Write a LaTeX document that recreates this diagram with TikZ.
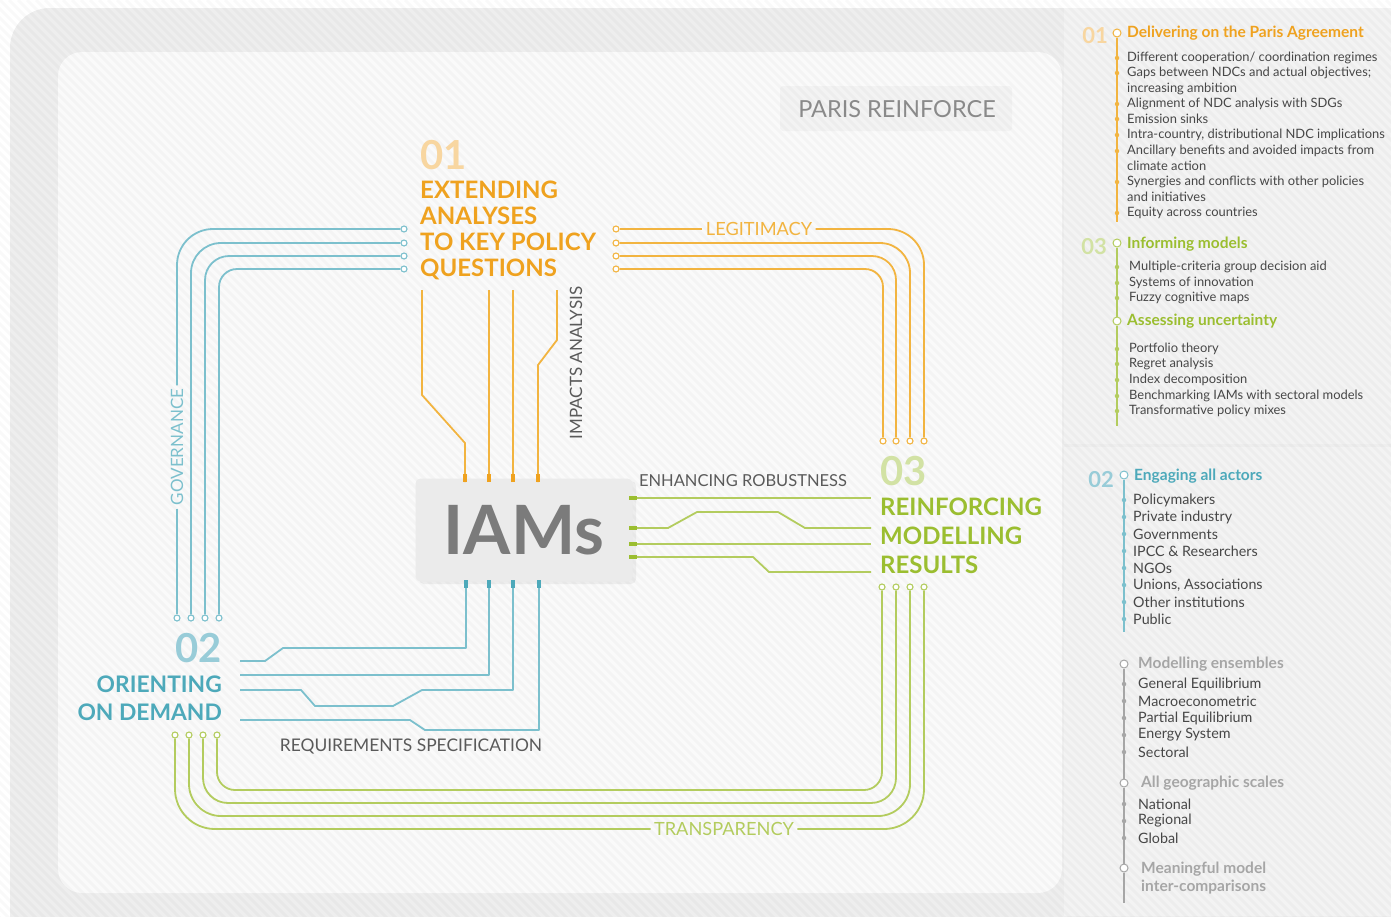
\documentclass[tikz,border=0pt]{standalone}
\usepackage{fontspec}
\setmainfont{Lato}
\usetikzlibrary{calc}

\definecolor{orng}{HTML}{EFA21F}
\definecolor{orline}{HTML}{F2B440}
\definecolor{orngp}{HTML}{F8D6A0}
\definecolor{tl}{HTML}{4DA9BA}
\definecolor{tlline}{HTML}{7CC0CD}
\definecolor{tlp}{HTML}{98CCD8}
\definecolor{grn}{HTML}{9BBE30}
\definecolor{grline}{HTML}{B3CC5E}
\definecolor{grp}{HTML}{D2E2A4}
\definecolor{txgray}{HTML}{5A5A5A}
\definecolor{iamgray}{HTML}{7B7B7B}
\definecolor{prgray}{HTML}{8A8A8A}
\definecolor{sgray}{HTML}{A6A6A6}
\definecolor{txdark}{HTML}{474747}
\definecolor{bgframe}{HTML}{EEEEEE}
\definecolor{bgpanel}{HTML}{FAFAFA}
\definecolor{bgside}{HTML}{F3F3F3}
\definecolor{bgbox}{HTML}{F3F3F3}
\definecolor{boxgray}{HTML}{EBEBEB}

\tikzset{l/.style={font=\fontsize{17}{17}\selectfont}}
\tikzset{ll/.style={font=\fontsize{18.2}{18.2}\selectfont}}
\tikzset{ttl/.style={font=\fontsize{24}{24}\selectfont\bfseries, inner sep=0pt}}
\tikzset{big/.style={font=\fontsize{40}{40}\selectfont\bfseries, inner sep=0pt}}
\tikzset{wire/.style={line width=1.8pt, line join=round}}
\tikzset{stub/.style={line width=3.4pt}}
\tikzset{ring/.style={circle, draw, fill=white, inner sep=0pt, minimum size=6pt, line width=1.1pt}}
\tikzset{hd/.style={font=\fontsize{15.5}{18}\selectfont\bfseries, anchor=west, inner sep=0pt}}
\tikzset{item/.style={font=\fontsize{12.9}{12.9}\selectfont, text=txdark, anchor=west, inner sep=0pt}}
\tikzset{itemb/.style={item, font=\fontsize{14.3}{14.3}\selectfont}}
\tikzset{num/.style={font=\fontsize{22}{22}\selectfont\bfseries, anchor=east, inner sep=0pt}}
\tikzset{rs/.style={circle, draw, fill=white, inner sep=0pt, minimum size=8pt, line width=1pt}}
\tikzset{bul/.style={circle, fill, inner sep=0pt, minimum size=4.5pt}}
\tikzset{stripe/.style={black, opacity=.022, line width=3pt}}

\begin{document}
\begin{tikzpicture}[x=1pt, y=-1pt]
  \useasboundingbox (0,0) rectangle (1391,916);

  % background
  \fill[white] (0,0) rectangle (1391,916);
  \fill[bgframe, rounded corners=40pt] (10,8) rectangle (1440,960);
  \fill[bgside] (1064,8) rectangle (1391,444);
  \fill[bgside] (1064,447) rectangle (1391,916);
  \fill[bgpanel, rounded corners=24pt] (58,52) rectangle (1062,893);
  \fill[bgbox, rounded corners=3pt] (780,86) rectangle (1012,131);
  \begin{scope}
    \clip (0,0) rectangle (1391,916);
    \foreach \i in {-104,...,156}
      \draw[stripe] (\i*9,0) -- ++(930,930);
  \end{scope}

  \node[font=\fontsize{23.5}{23.5}\selectfont, text=prgray] (pr) at (897,109) {PARIS REINFORCE};

  % IAMs
  \fill[black, opacity=.05, rounded corners=5pt] (419,481) rectangle (636,584);
  \node[fill=boxgray, rounded corners=5pt, minimum width=217pt, minimum height=103pt,
        font=\fontsize{68}{68}\selectfont\bfseries, text=iamgray] (iams) at (524,530) {IAMs};

  % 01
  \node[big, text=orngp, anchor=base west] (n01) at (420,169) {01};
  \foreach \t [count=\k] in {EXTENDING, ANALYSES, TO KEY POLICY, QUESTIONS}
    \node[ttl, text=orng, anchor=base west] (ext\k) at (420,172+26*\k) {\t};

  % governance bundle
  \foreach \y/\x [count=\k] in {229/177, 243/191, 256/205, 269/219}{
    \node[ring, draw=tlline] (gt\k) at (404,\y) {};
    \node[ring, draw=tlline] (gb\k) at (\x,618) {};
  }
  \node[l, text=tlline, rotate=90] (gov) at (177,447) {GOVERNANCE};
  \draw[wire, tlline, rounded corners=36pt] (gt1) -| (gov.east);
  \draw[wire, tlline] (gov.west) -- (gb1);
  \draw[wire, tlline, rounded corners=30pt] (gt2) -| (gb2);
  \draw[wire, tlline, rounded corners=24pt] (gt3) -| (gb3);
  \draw[wire, tlline, rounded corners=18pt] (gt4) -| (gb4);

  % legitimacy bundle
  \foreach \y/\x [count=\k] in {229/924, 243/910, 256/896, 269/883}{
    \node[ring, draw=orline] (lt\k) at (616,\y) {};
    \node[ring, draw=orline] (lb\k) at (\x,441) {};
  }
  \node[ll, text=orline] (leg) at (759,229) {LEGITIMACY};
  \draw[wire, orline] (lt1) -- (leg.west);
  \draw[wire, orline, rounded corners=36pt] (leg.east) -| (lb1);
  \draw[wire, orline, rounded corners=30pt] (lt2) -| (lb2);
  \draw[wire, orline, rounded corners=24pt] (lt3) -| (lb3);
  \draw[wire, orline, rounded corners=18pt] (lt4) -| (lb4);

  % transparency bundle
  \foreach \xl/\xr/\y [count=\k] in {175/924/829, 189/910/816, 203/896/803, 217/882/790}{
    \node[ring, draw=grline] (tl\k) at (\xl,735) {};
    \node[ring, draw=grline] (tr\k) at (\xr,587) {};
    \coordinate (tm\k) at (550,\y);
  }
  \node[ll, text=grline] (tra) at (724,829) {TRANSPARENCY};
  \draw[wire, grline, rounded corners=40pt] (tl1) |- (tra.west);
  \draw[wire, grline, rounded corners=40pt] (tra.east) -| (tr1);
  \draw[wire, grline, rounded corners=32pt] (tl2) |- (tm2) -| (tr2);
  \draw[wire, grline, rounded corners=25pt] (tl3) |- (tm3) -| (tr3);
  \draw[wire, grline, rounded corners=18pt] (tl4) |- (tm4) -| (tr4);

  % impacts analysis
  \foreach \x [count=\k] in {422,489,513,557} \coordinate (q\k) at (\x,290);
  \foreach \x [count=\k] in {465,489,513,538} \coordinate (qi\k) at (\x,482);
  \draw[wire, orline] (q1) -- ++(0,105) -- ++(43,48) -- (qi1);
  \draw[wire, orline] (q2) -- (qi2);
  \draw[wire, orline] (q3) -- (qi3);
  \draw[wire, orline] (q4) -- ++(0,50) -- ++(-19,25) -- (qi4);
  \foreach \k in {1,...,4} \draw[stub, orng] (qi\k) -- ++(0,-8);
  \node[l, text=txgray, rotate=90] (imp) at (576,363) {IMPACTS ANALYSIS};

  % enhancing robustness
  \foreach \y [count=\k] in {498,528,544,557} \coordinate (ri\k) at (629,\y);
  \foreach \y [count=\k] in {498,528,544,572} \coordinate (ro\k) at (871,\y);
  \draw[wire, grline] (ri1) -- (ro1);
  \draw[wire, grline] (ri2) -- ++(39,0) -- ++(29,-16) -- ++(81,0) -- ++(27,16) -- (ro2);
  \draw[wire, grline] (ri3) -- (ro3);
  \draw[wire, grline] (ri4) -- ++(124,0) -- ++(16,15) -- (ro4);
  \foreach \k in {1,...,4} \draw[stub, grn] (ri\k) -- ++(8,0);
  \node[l, text=txgray, font=\fontsize{16.5}{16.5}\selectfont] (enh) at (743,481) {ENHANCING ROBUSTNESS};

  % 03
  \node[big, text=grp, anchor=base west] (n03) at (880,485) {03};
  \foreach \t [count=\k] in {REINFORCING, MODELLING, RESULTS}
    \node[ttl, text=grn, anchor=base west] (rei\k) at (880,486+29*\k) {\t};

  % requirements specification
  \foreach \x [count=\k] in {466,489,513,539} \coordinate (bi\k) at (\x,580);
  \foreach \y [count=\k] in {661,675,690,720} \coordinate (bo\k) at (240,\y);
  \draw[wire, tlline] (bi1) -- ++(0,68) -- ++(-183,0) -- ++(-18,13) -- (bo1);
  \draw[wire, tlline] (bi2) |- (bo2);
  \draw[wire, tlline] (bi3) -- ++(0,110) -- ++(-91,0) -- ++(-29,16) -- ++(-78,0) -- ++(-14,-16) -- (bo3);
  \draw[wire, tlline] (bi4) -- ++(0,150) -- ++(-114,0) -- ++(-15,-10) -- (bo4);
  \foreach \k in {1,...,4} \draw[stub, tl] (bi\k) -- ++(0,8);
  \node[l, text=txgray, font=\fontsize{17.4}{17.4}\selectfont] (req) at (411,746) {REQUIREMENTS SPECIFICATION};

  % 02
  \node[big, text=tlp, anchor=base east] (n02) at (222,662) {02};
  \foreach \t [count=\k] in {ORIENTING, ON DEMAND}
    \node[ttl, text=tl, anchor=base east, font=\fontsize{22.8}{22.8}\selectfont\bfseries] (ori\k) at (222,664+28*\k) {\t};

  % side: 01
  \node[rs, draw=orline] (sa) at (1117,33) {};
  \coordinate (sae) at (1117,222);
  \draw[line width=1.3pt, orline] (sa) -- (sae);
  \node[num, text=orngp] (sa0) at (1108,36) {01};
  \node[hd, text=orng] (sah) at (1127,33) {Delivering on the Paris Agreement};
  \foreach \y/\t [count=\k] in {58/{Different cooperation/ coordination regimes},
      73/{Gaps between NDCs and actual objectives;}, 89/{increasing ambition},
      104/{Alignment of NDC analysis with SDGs}, 119/{Emission sinks},
      135/{Intra-country, distributional NDC implications},
      151/{Ancillary benefits and avoided impacts from}, 166/{climate action},
      182/{Synergies and conflicts with other policies}, 197/{and initiatives},
      213/{Equity across countries}}
    \node[item] (sai\k) at (1127,\y) {\t};
  \foreach \y in {58,73,104,119,135,151,182,213}
    \node[bul, orline] at (1117,\y) {};

  % side: 03
  \node[rs, draw=grline] (sc) at (1117,243) {};
  \node[rs, draw=grline] (sd) at (1117,321) {};
  \coordinate (sce) at (1117,426);
  \draw[line width=1.3pt, grline] (sc) -- (sd) -- (sce);
  \node[num, text=grp] (sc0) at (1107,247) {03};
  \node[hd, text=grn] (sch) at (1127,244) {Informing models};
  \node[hd, text=grn] (sdh) at (1127,321) {Assessing uncertainty};
  \foreach \y/\t [count=\k] in {267/{Multiple-criteria group decision aid},
      283/{Systems of innovation}, 298/{Fuzzy cognitive maps},
      349/{Portfolio theory}, 364/{Regret analysis}, 380/{Index decomposition},
      396/{Benchmarking IAMs with sectoral models}, 411/{Transformative policy mixes}}{
    \node[item] (sci\k) at (1129,\y) {\t};
    \node[bul, grline] at (1117,\y) {};
  }

  % side: 02
  \node[rs, draw=tlline] (sb) at (1124,475) {};
  \coordinate (sbe) at (1124,632);
  \draw[line width=1.3pt, tlline] (sb) -- (sbe);
  \node[num, text=tlp] (sb0) at (1114,480) {02};
  \node[hd, text=tl] (sbh) at (1134,476) {Engaging all actors};
  \foreach \y/\t [count=\k] in {500/Policymakers, 517/Private industry, 534/Governments,
      551/{IPCC \& Researchers}, 568/NGOs, 585/{Unions, Associations},
      602/Other institutions, 619/Public}{
    \node[itemb] (sbi\k) at (1133,\y) {\t};
    \node[bul, tlline] at (1124,\y) {};
  }

  % side: models
  \node[rs, draw=sgray] (se) at (1124,664) {};
  \node[rs, draw=sgray] (sf) at (1124,783) {};
  \node[rs, draw=sgray] (sg) at (1124,868) {};
  \coordinate (sge) at (1124,903);
  \draw[line width=1.3pt, sgray] (se) -- (sf) -- (sg) -- (sge);
  \node[hd, text=sgray] (seh) at (1138,664) {Modelling ensembles};
  \node[hd, text=sgray] (sfh) at (1141,783) {All geographic scales};
  \node[hd, text=sgray, align=left, anchor=north west] (sgh) at (1141,862) {Meaningful model\\inter-comparisons};
  \foreach \y/\t [count=\k] in {684/General Equilibrium, 701/Macroeconometric,
      718/Partial Equilibrium, 735/Energy System, 752/Sectoral,
      804/National, 821/Regional, 838/Global}{
    \node[itemb] (sei\k) at (1138,\y) {\t};
    \node[bul, sgray] at (1124,\y) {};
  }
\end{tikzpicture}
\end{document}
